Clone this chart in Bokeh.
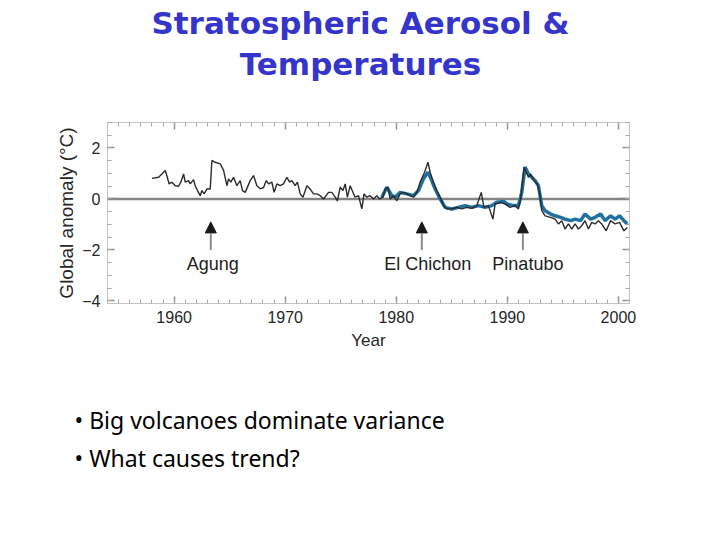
from bokeh.plotting import figure
from bokeh.layouts import column
from bokeh.models import (Range1d, LinearAxis, FixedTicker, Span, Arrow, NormalHead,
                          ColumnDataSource, CustomJSTickFormatter, Title)
from bokeh.core.properties import value
from bokeh.embed import file_html
from bokeh.resources import INLINE

# ---------------- data ----------------
obs_years = [1958.0, 1958.6, 1958.9, 1959.2, 1959.34, 1959.55, 1959.8, 1960.1, 1960.4, 1960.6,
             1960.85, 1961.0, 1961.3, 1961.45, 1961.75, 1961.9, 1962.1, 1962.35, 1962.5, 1962.7,
             1962.95, 1963.25, 1963.4, 1963.7, 1964.15, 1964.45, 1964.75, 1964.9, 1965.1, 1965.35,
             1965.65, 1965.95, 1966.15, 1966.4, 1966.85, 1967.15, 1967.45, 1967.75, 1968.05, 1968.3,
             1968.5, 1968.8, 1969.0, 1969.25, 1969.55, 1969.85, 1970.15, 1970.4, 1970.6, 1970.9,
             1971.1, 1971.35, 1971.6, 1971.95, 1972.25, 1972.55, 1972.85, 1973.15, 1973.45, 1973.9,
             1974.2, 1974.5, 1974.7, 1974.95, 1975.2, 1975.4, 1975.6, 1975.85, 1976.1, 1976.3,
             1976.6, 1976.9, 1977.1, 1977.35, 1977.65, 1977.95, 1978.25, 1978.5, 1978.8, 1979.0,
             1979.25, 1979.45, 1979.75, 1980.05, 1980.35, 1980.65, 1980.95, 1981.25, 1981.55, 1981.85,
             1982.15, 1982.55, 1982.85, 1983.05, 1983.35, 1983.65, 1983.95, 1984.25, 1984.55, 1985.0,
             1985.45, 1985.9, 1986.35, 1986.8, 1987.25, 1987.65, 1987.9, 1988.3, 1988.7, 1988.9,
             1989.4, 1989.8, 1990.25, 1990.7, 1991.0, 1991.2, 1991.5, 1991.9, 1992.1, 1992.4,
             1992.7, 1992.9, 1993.1, 1993.4, 1993.9, 1994.3, 1994.6, 1994.9, 1995.2, 1995.5,
             1995.8, 1996.1, 1996.4, 1996.7, 1997.0, 1997.3, 1997.6, 1997.9, 1998.2, 1998.5,
             1998.9, 1999.3, 1999.7, 2000.1, 2000.5, 2000.8]
obs_anom = [0.81, 0.85, 0.98, 1.12, 0.92, 0.59, 0.66, 0.52, 0.50, 0.66,
            0.98, 0.66, 0.72, 0.59, 0.76, 0.52, 0.33, 0.13, 0.33, 0.20,
            0.39, 0.39, 1.51, 1.44, 1.38, 1.12, 0.52, 0.79, 0.66, 0.85,
            0.52, 0.72, 0.33, 0.26, 0.72, 0.92, 0.52, 0.40, 0.45, 0.72,
            0.59, 0.66, 0.26, 0.59, 0.52, 0.59, 0.85, 0.66, 0.72, 0.52,
            0.66, 0.20, 0.07, 0.52, 0.39, 0.20, 0.20, 0.13, 0.00, 0.26,
            0.26, 0.07, -0.07, 0.46, 0.33, 0.59, 0.07, 0.52, 0.26, 0.07,
            0.13, -0.39, 0.20, 0.07, 0.13, 0.00, 0.13, 0.00, 0.07, 0.39,
            0.46, 0.00, 0.13, -0.07, 0.20, 0.26, 0.20, 0.13, 0.07, 0.26,
            0.66, 1.05, 1.44, 1.05, 0.66, 0.33, 0.07, -0.26, -0.39, -0.39,
            -0.33, -0.39, -0.33, -0.37, -0.26, 0.26, -0.33, -0.26, -0.79, -0.20,
            -0.13, -0.20, -0.33, -0.26, -0.39, 0.00, 1.25, 0.85, 0.98, 0.72,
            0.59, 0.26, -0.46, -0.66, -0.72, -0.79, -0.98, -0.85, -1.18, -0.98,
            -1.18, -0.98, -1.18, -1.05, -0.85, -1.18, -0.92, -0.98, -0.85, -0.98,
            -1.25, -0.85, -0.98, -0.92, -1.25, -1.12]

model_years = [1978.7, 1979.15, 1979.6, 1979.9, 1980.35, 1980.95, 1981.55, 1982.0, 1982.45, 1982.85,
               1983.2, 1983.5, 1983.95, 1984.4, 1985.0, 1985.6, 1986.2, 1986.8, 1987.4, 1988.0,
               1988.6, 1989.05, 1989.7, 1990.0, 1990.6, 1991.0, 1991.3, 1991.6, 1991.9, 1992.2,
               1992.5, 1992.8, 1993.1, 1993.4, 1993.9, 1994.3, 1994.8, 1995.2, 1995.7, 1996.1,
               1996.6, 1997.0, 1997.5, 1997.9, 1998.4, 1998.8, 1999.3, 1999.7, 2000.1, 2000.5,
               2000.8]
model_anom = [0.07, 0.46, 0.13, 0.07, 0.26, 0.20, 0.13, 0.33, 0.79, 1.05,
              0.72, 0.39, 0.00, -0.33, -0.39, -0.33, -0.26, -0.33, -0.26, -0.33,
              -0.26, -0.13, -0.10, -0.20, -0.26, -0.26, 0.26, 1.25, 0.98, 0.85,
              0.72, 0.52, -0.26, -0.46, -0.59, -0.66, -0.72, -0.79, -0.85, -0.79,
              -0.85, -0.59, -0.79, -0.72, -0.59, -0.85, -0.66, -0.79, -0.66, -0.85,
              -0.98]

volcano_names = ["Agung", "El Chichon", "Pinatubo"]
volcano_years = [1963.3, 1982.3, 1991.4]

y_ticks = [-4, -2, 0, 2]
y_tick_labels = ["\u22124", "\u22122", "0", "2"]
x_ticks = [1960, 1970, 1980, 1990, 2000]

title_lines = ["Stratospheric Aerosol &", "Temperatures"]
bullets = ["Big volcanoes dominate variance", "What causes trend?"]

# ---------------- layout / styles ----------------
W = 704
H_TOP, H_CHART = 100, 432
FL, FR, FT, FB = 107, 629, 122, 303      # frame edges in page pixels
AX_FONT = "Liberation Sans"
TXT = "#262626"

# ---- slide title figure (frame spans the same columns as the chart frame) ----
ft = figure(width=W, height=H_TOP, x_range=Range1d(FL, FR), y_range=Range1d(H_TOP, 0),
            output_backend="svg", toolbar_location=None, title=None,
            x_axis_location=None, y_axis_location=None,
            min_border_left=FL, min_border_right=W - FR, min_border_top=0, min_border_bottom=0)
ft.outline_line_color = None
ft.xgrid.grid_line_color = None
ft.ygrid.grid_line_color = None
ft.text(x=[360] * len(title_lines), y=[22, 63.5], text=title_lines,
        text_font=value("DejaVu Sans"), text_font_size="31px", text_font_style="bold",
        text_color="#3535cc", text_align="center", text_baseline="alphabetic")

# ---- chart ----
p = figure(width=W, height=H_CHART, x_range=Range1d(1954, 2001), y_range=Range1d(-4.1, 3.0),
           output_backend="svg", toolbar_location=None, title=None,
           x_axis_location=None, y_axis_location=None,
           min_border_left=FL, min_border_right=W - FR, min_border_top=FT - H_TOP,
           min_border_bottom=H_TOP + H_CHART - FB)
p.outline_line_color = "#c4c4c4"
p.xgrid.grid_line_color = None
p.ygrid.grid_line_color = None

x_minor = list(range(1954, 2002))
y_minor = [v / 2 for v in range(-8, 7)]
blank = CustomJSTickFormatter(code="return ''")


def style_axis(ax, ticks, minor):
    ax.ticker = FixedTicker(ticks=ticks, minor_ticks=minor)
    ax.major_tick_in = 7
    ax.major_tick_out = 0
    ax.minor_tick_in = 4
    ax.minor_tick_out = 0
    ax.axis_line_color = "#c4c4c4"
    ax.major_tick_line_color = "#8c8c8c"
    ax.minor_tick_line_color = "#a8a8a8"
    ax.major_tick_line_width = 1.5
    ax.major_label_text_font = AX_FONT
    ax.major_label_text_font_size = "16px"
    ax.major_label_text_color = TXT
    ax.axis_label_text_font = AX_FONT
    ax.axis_label_text_font_size = "17px"
    ax.axis_label_text_font_style = "normal"
    ax.axis_label_text_color = TXT


left = LinearAxis(axis_label="Global anomaly (\u00b0C)")
style_axis(left, y_ticks, y_minor)
left.axis_label_text_font_size = "19px"
left.major_label_overrides = dict(zip(y_ticks, y_tick_labels))
left.major_label_standoff = 7
left.axis_label_standoff = 2
p.add_layout(left, "left")

right = LinearAxis(formatter=blank)
style_axis(right, y_ticks, y_minor)
right.major_label_standoff = 0
p.add_layout(right, "right")

bottom = LinearAxis(axis_label="Year")
style_axis(bottom, x_ticks, x_minor)
bottom.major_label_standoff = 7
bottom.axis_label_standoff = 5
p.add_layout(bottom, "below")

top = LinearAxis(formatter=blank)
style_axis(top, x_ticks, x_minor)
top.major_label_standoff = 0
p.add_layout(top, "above")

p.add_layout(Span(location=0, dimension="width", line_color="#858585", line_width=2.5,
                  level="underlay"))

p.line(model_years, model_anom, line_color="#1f6fa0", line_width=3.5)
p.line(obs_years, obs_anom, line_color="#2b2b2b", line_width=1.4)

for yr in volcano_years:
    p.add_layout(Arrow(end=NormalHead(size=11, fill_color="#1a1a1a", line_color="#1a1a1a"),
                       x_start=yr, y_start=-2.0, x_end=yr, y_end=-0.9,
                       line_color="#8c8c8c", line_width=2))

label_dx = [2, 6, 5]
vsrc = ColumnDataSource(dict(x=volcano_years, name=volcano_names, dx=label_dx,
                             y=[-2.55] * len(volcano_names)))
p.text(x="x", y="y", text="name", x_offset="dx", source=vsrc, text_font=value(AX_FONT),
       text_font_size="18px", text_color="#1e1e1e", text_align="center",
       text_baseline="middle")

# ---- bullets: one left-aligned multi-line title below the x axis ----
p.add_layout(Title(text="\n".join("\u2022  " + b for b in bullets), align="left",
                   vertical_align="top", offset=74 - FL, standoff=102,
                   text_font="Noto Sans", text_font_size="23px", text_font_style="normal",
                   text_line_height=1.2, text_color="#000000"), "below")

open("out.html", "w").write(file_html(column(ft, p, spacing=0), INLINE))
